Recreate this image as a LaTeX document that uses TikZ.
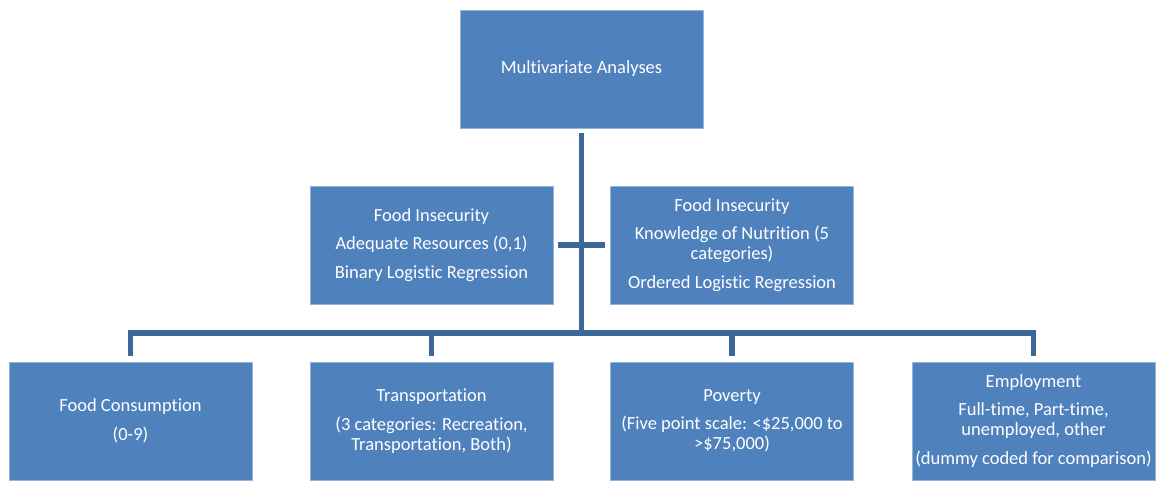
\documentclass[tikz,border=0pt]{standalone}
\usepackage{fontspec}
\setmainfont{Carlito}[Ligatures=NoCommon]
\definecolor{boxfill}{RGB}{79,129,189}
\definecolor{boxedge}{RGB}{150,180,218}
\definecolor{linkblue}{RGB}{62,103,153}
\begin{document}
\begin{tikzpicture}[x=1pt,y=-1pt,
  box/.style={fill=boxfill, draw=boxedge, line width=0.8pt,
    minimum width=243pt, minimum height=118pt, text=white,
    align=center, inner sep=0pt, font=\fontsize{18.5}{20}\selectfont},
  link/.style={draw=linkblue, line width=5.5pt}]
\useasboundingbox (0,0) rectangle (1157,480);

% top level
\node[box] (top) at (581.5,69) {Multivariate Analyses};

% middle level: the two outcome models
\node[box] (fiA) at (431.5,245) {Food Insecurity\\[8.5pt]Adequate Resources (0,1)\\[8.5pt]Binary Logistic Regression};
\node[box] (fiB) at (732,245) {Food Insecurity\\[8.5pt]Knowledge of Nutrition (5\\categories)\\[8.5pt]Ordered Logistic Regression};

% bottom level: predictors
\node[box] (fc)  at (130.5,421) {Food Consumption\\[8.5pt](0-9)};
\node[box] (tr)  at (431.5,421) {Transportation\\[8.5pt](3 categories: Recreation,\\Transportation, Both)};
\node[box] (pov) at (732,421) {Poverty\\[8.5pt](Five point scale: <\$25,000 to\\>\$75,000)};
\node[box] (emp) at (1033.5,421) {Employment\\[8.5pt]Full-time, Part-time,\\unemployed, other\\[8.5pt](dummy coded for comparison)};

% connectors
\coordinate (bus) at (581.5,333);
\draw[link] ([yshift=-5pt]top.south) -- (bus);
\draw[link] ([xshift=5pt]fiA.east) -- ([xshift=-5pt]fiB.west);
\draw[link, line join=miter] ([yshift=6pt]fc.north) |- (bus) -| ([yshift=6pt]emp.north);
\draw[link] ([yshift=6pt]tr.north) -- (tr.north |- bus);
\draw[link] ([yshift=6pt]pov.north) -- (pov.north |- bus);
\end{tikzpicture}
\end{document}
